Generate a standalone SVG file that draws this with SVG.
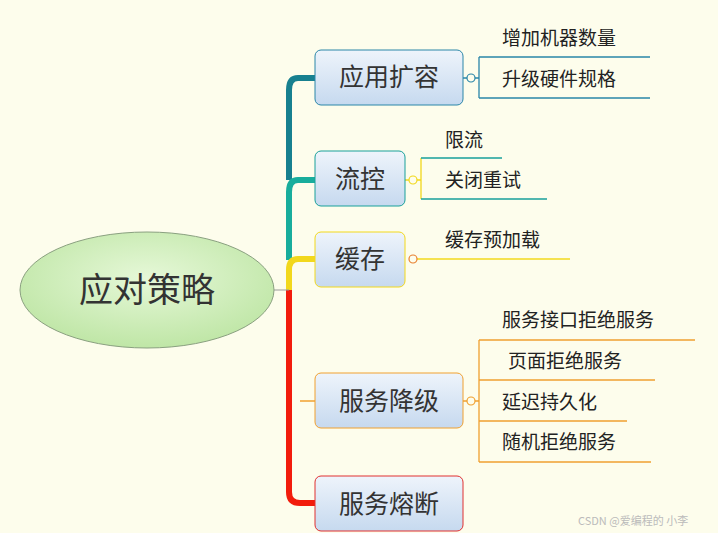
<svg xmlns="http://www.w3.org/2000/svg" width="718" height="533" viewBox="0 0 718 533">
<defs>
<linearGradient id="bg" x1="0" y1="0" x2="0" y2="1"><stop offset="0" stop-color="#eef4fb"/><stop offset="1" stop-color="#c6d9ef"/></linearGradient>
<radialGradient id="eg" cx="0.5" cy="0.4" r="0.6"><stop offset="0" stop-color="#e6f8d8"/><stop offset="1" stop-color="#bfe6a6"/></radialGradient>
</defs>
<style>
.n{font-family:"Noto Sans CJK SC",sans-serif;font-size:25px;fill:#333}
.s{font-family:"Noto Sans CJK SC",sans-serif;font-size:19px;fill:#222}
.c{fill:#fdfdec;stroke-width:1.2}
</style>
<rect width="718" height="533" fill="#fdfdec"/>
<g id="connectors" fill="none">
<path d="M315 78 H298 Q289 78 289 90 V180" stroke="#17808f" stroke-width="6"/>
<path d="M315 180 H298 Q289 180 289 192 V260" stroke="#18ad9c" stroke-width="6"/>
<path d="M315 259 H298 Q289 259 289 270 V292" stroke="#f2d81c" stroke-width="6"/>
<path d="M289 290 V492 Q289 503 300 503 H315" stroke="#f21c0c" stroke-width="6"/>
<path d="M274 290 H289" stroke="#999" stroke-width="1"/>
<path d="M300 401 H315" stroke="#f0a030" stroke-width="1.5"/>
<path d="M463 78 H467 M475 78 H479 M479 57 V98 M479 57 H650 M479 98 H650" stroke="#2a86a8" stroke-width="1.3"/>
<path d="M405 180 H409 M417 180 H421 M421 158 V199" stroke="#f2d81c" stroke-width="1.3"/>
<path d="M421 158 H502 M421 199 H547" stroke="#18a09a" stroke-width="1.3"/>
<path d="M417 259 H570" stroke="#f2d81c" stroke-width="1.3"/>
<path d="M463 401 H467 M475 401 H479 M479 340 V462 M479 340 H695 M479 380 H655 M479 421 H627 M479 462 H651" stroke="#f0a030" stroke-width="1.3"/>
<circle cx="471" cy="78" r="4" class="c" stroke="#2a86a8"/>
<circle cx="413" cy="180" r="4" class="c" stroke="#f2d81c"/>
<circle cx="413" cy="259" r="4" class="c" stroke="#e88030"/>
<circle cx="471" cy="401" r="4" class="c" stroke="#f0a030"/>
</g>
<g id="root"><ellipse cx="147" cy="290" rx="127" ry="58" fill="url(#eg)" stroke="#8aa080" stroke-width="1"/><text x="147" y="302" text-anchor="middle" font-family="Noto Sans CJK SC,sans-serif" font-size="34" fill="#333">应对策略</text></g>
<g id="n1"><rect x="315" y="50" width="148" height="55" rx="6" fill="url(#bg)" stroke="#2a86a8"/><text x="389" y="86" text-anchor="middle" class="n">应用扩容</text></g>
<g id="n2"><rect x="315" y="151" width="90" height="55" rx="6" fill="url(#bg)" stroke="#18a09a"/><text x="360" y="188" text-anchor="middle" class="n">流控</text></g>
<g id="n3"><rect x="315" y="232" width="90" height="55" rx="6" fill="url(#bg)" stroke="#f2d81c"/><text x="360" y="268" text-anchor="middle" class="n">缓存</text></g>
<g id="n4"><rect x="315" y="373" width="148" height="55" rx="6" fill="url(#bg)" stroke="#f0a030"/><text x="389" y="410" text-anchor="middle" class="n">服务降级</text></g>
<g id="n5"><rect x="315" y="476" width="148" height="55" rx="6" fill="url(#bg)" stroke="#e03030"/><text x="389" y="513" text-anchor="middle" class="n">服务熔断</text></g>
<g id="leaves">
<text x="502" y="45" class="s">增加机器数量</text>
<text x="502" y="86" class="s">升级硬件规格</text>
<text x="445" y="147" class="s">限流</text>
<text x="445" y="187" class="s">关闭重试</text>
<text x="445" y="247" class="s">缓存预加载</text>
<text x="502" y="327" class="s">服务接口拒绝服务</text>
<text x="508" y="368" class="s">页面拒绝服务</text>
<text x="502" y="409" class="s">延迟持久化</text>
<text x="502" y="449" class="s">随机拒绝服务</text>
</g>
<text x="578" y="525" font-family="Noto Sans CJK SC,sans-serif" font-size="11" fill="#bbb">CSDN @爱编程的 小李</text>
</svg>
